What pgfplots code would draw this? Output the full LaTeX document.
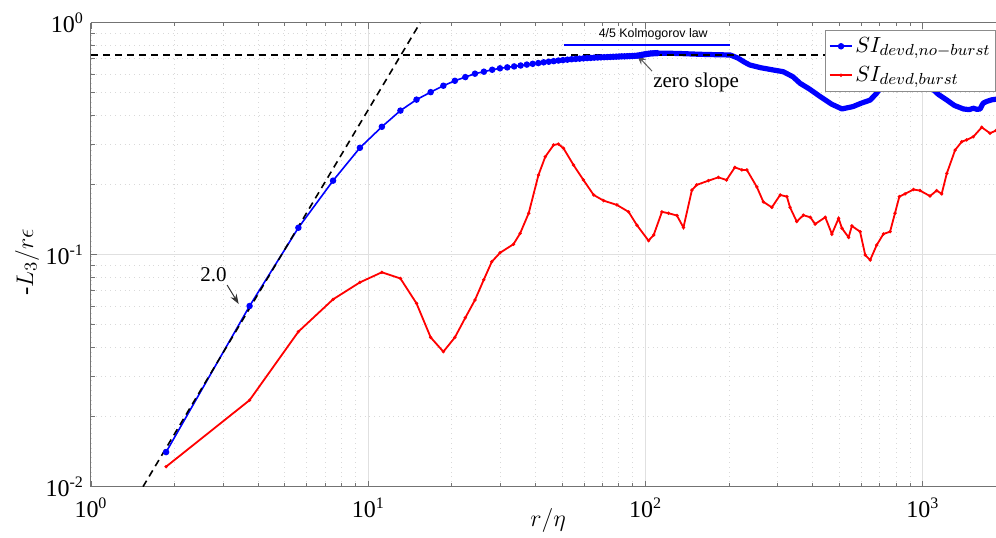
\documentclass[border=0pt]{standalone}
\usepackage{fontspec}
\setmainfont{Liberation Serif}
\newfontfamily\arialfont{Liberation Sans}
\usepackage{pgfplots}
\pgfplotsset{compat=1.18}
\usetikzlibrary{arrows.meta}

\begin{document}
\begin{tikzpicture}
\begin{axis}[
  scale only axis,
  width=452.5pt, height=232pt,
  xmode=log, ymode=log,
  xmin=1, xmax=1837, ymin=0.01, ymax=1,
  axis y line*=left,
  xtick={1,10,100,1000},
  xticklabels={10\textsuperscript{0},10\textsuperscript{1},10\textsuperscript{2},10\textsuperscript{3}},
  ytick={0.01,0.1,1},
  yticklabels={10\textsuperscript{-2},10\textsuperscript{-1},10\textsuperscript{0}},
  tick label style={font=\fontsize{12}{14}\selectfont},
  xticklabel style={yshift=-2pt},
  tick align=inside,
  major tick length=3pt, minor tick length=1.8pt,
  grid=both,
  major grid style={black!12, line width=0.5pt},
  minor grid style={black!15, dotted, line width=0.4pt},
  axis line style={black!55, line width=0.5pt},
  every tick/.style={black!55},
  xlabel={$r/\eta$},
  ylabel={-$L_3/r\epsilon$},
  label style={font=\fontsize{12.5}{14}\selectfont},
  xlabel style={at={(axis description cs:0.505,-0.0718)}, anchor=center},
  ylabel style={at={(axis description cs:-0.0707,0.484)}, anchor=center},
  legend cell align=left,
  legend image code/.code={\draw[mark repeat=2,mark phase=2,#1]
    plot coordinates {(0cm,0cm) (0.2cm,0cm) (0.4cm,0cm)};},
  legend style={at={(1,1)}, anchor=north east, yshift=-3.6pt, draw=black!45,
                fill=white, font=\fontsize{10.8}{12}\selectfont, inner sep=1.5pt,
                row sep=1.5pt, nodes={inner xsep=1pt}},
]
% dense part of the no-burst curve (markers merge into a thick line)
\addplot[blue, line width=2.6pt, line join=round, line cap=round, forget plot] coordinates {
(108.2,0.739) (120,0.739) (135,0.736) (157,0.731) (180,0.728) (202,0.726)
(215,0.705) (228,0.675) (238,0.657) (260,0.640) (290,0.625) (314,0.615)
(340,0.585) (361,0.548) (390,0.518) (427,0.480) (470,0.445) (511,0.425)
(560,0.435) (600,0.450) (646,0.464) (680,0.495) (711,0.530) (760,0.580)
(820,0.630) (880,0.650) (940,0.630) (1000,0.580) (1062,0.530) (1140,0.490)
(1221,0.464) (1300,0.440) (1400,0.425) (1470,0.422) (1521,0.428) (1570,0.423)
(1610,0.425) (1650,0.450) (1702,0.458) (1770,0.465) (1837,0.468)
};
\addplot[blue, line width=0.8pt, mark=*, mark size=1.2pt] coordinates {
(1.866,0.0141) (3.732,0.0601) (5.598,0.1307) (7.464,0.2085) (9.330,0.289)
(11.196,0.356) (13.062,0.418) (14.928,0.466) (16.794,0.502) (18.660,0.535)
(20.526,0.562) (22.392,0.583) (24.258,0.603) (26.124,0.615) (27.990,0.627)
(29.856,0.636) (31.722,0.642) (33.588,0.648) (35.454,0.654) (37.320,0.660)
(39.186,0.665) (41.052,0.670) (42.918,0.675) (44.784,0.679) (46.650,0.683)
(48.516,0.687) (50.382,0.690) (52.248,0.693) (54.114,0.696) (55.980,0.698)
(57.846,0.700) (59.712,0.702) (61.578,0.704) (63.444,0.705) (65.310,0.707)
(67.176,0.708) (69.042,0.709) (70.908,0.710) (72.774,0.711) (74.640,0.712)
(76.506,0.713) (78.372,0.714) (80.238,0.715) (82.104,0.716) (83.970,0.716)
(85.836,0.717) (87.702,0.718) (89.568,0.719) (91.434,0.720) (93.300,0.721)
(95.166,0.724) (97.032,0.727) (98.898,0.730) (100.764,0.733) (102.630,0.735)
(104.496,0.737) (106.362,0.738) (108.228,0.739) (110.094,0.739)
};
\addlegendentry{$SI_{devd,no-burst}$}
\addplot[red, line width=0.9pt, mark=*, mark size=0.3pt] coordinates {
(1.866,0.0122) (3.732,0.0236) (5.598,0.0466) (7.464,0.0642) (9.330,0.076)
(11.196,0.084) (13.062,0.079) (14.928,0.0617) (16.794,0.044) (18.660,0.0382)
(20.526,0.044) (22.392,0.0535) (24.258,0.0638) (26.1,0.078) (27.9,0.0933)
(29.9,0.102) (33.4,0.111) (35.3,0.1236) (37.9,0.151) (41.1,0.2206) (43.5,0.2645)
(46.6,0.297) (48.5,0.300) (50.6,0.2875) (55,0.2435) (59.7,0.21) (65,0.181)
(70.6,0.171) (78.8,0.164) (86.9,0.153) (93.1,0.134) (102.5,0.115) (107,0.1216)
(114.6,0.153) (121,0.151) (129.8,0.1475) (137,0.131) (147,0.19) (153,0.20)
(168.6,0.2085) (183,0.2155) (196,0.21) (210,0.238) (222.7,0.232) (232,0.232)
(252,0.196) (266,0.169) (285.5,0.16) (306,0.181) (323.5,0.178) (332,0.16)
(351,0.139) (371,0.148) (393,0.145) (409,0.1356) (445,0.145) (470,0.1228)
(497,0.1435) (511,0.13) (540,0.1188) (555,0.133) (594,0.1257) (620,0.0997)
(646,0.0949) (682,0.110) (721,0.1228) (762,0.1257) (794,0.151) (823,0.178)
(863,0.183) (925,0.191) (977,0.189) (1062,0.179) (1122,0.189) (1170,0.183)
(1221,0.2243) (1308,0.2827) (1382,0.307) (1439,0.3125) (1521,0.3225)
(1632,0.354) (1748,0.334) (1837,0.343)
};
\addlegendentry{$SI_{devd,burst}$}
% reference lines
\addplot[black, line width=0.8pt, dash pattern=on 3.5pt off 2.5pt, forget plot]
  coordinates {(1,0.724) (1837,0.724)};
\addplot[black, line width=0.8pt, dash pattern=on 3.5pt off 2.5pt, forget plot]
  coordinates {(1.54,0.01) (15.4,1)};
\addplot[blue, line width=1pt, forget plot] coordinates {(50.6,0.8) (202,0.8)};
% annotations
\node[font=\arialfont\fontsize{6.2}{7}\selectfont] at (axis cs:106.6,0.894) {4/5 Kolmogorov law};
\node[font=\fontsize{10.5}{12}\selectfont] at (axis cs:152.3,0.55) {zero slope};
\draw[-{Stealth[length=5pt,width=3.5pt]}, black!65, line width=0.5pt]
  (axis cs:105.5,0.619) -- (axis cs:93.1,0.726);
\node[font=\fontsize{10.5}{12}\selectfont] at (axis cs:2.765,0.0817) {2.0};
\draw[-{Stealth[length=5pt,width=3.5pt]}, black!80, line width=0.5pt]
  (axis cs:3.097,0.074) -- (axis cs:3.41,0.0613);
\end{axis}
\pgfresetboundingbox
\path[use as bounding box] ([xshift=-45.5pt,yshift=-25.15pt]current axis.south west)
  rectangle ([yshift=11.35pt]current axis.north east);
\end{tikzpicture}
\end{document}
